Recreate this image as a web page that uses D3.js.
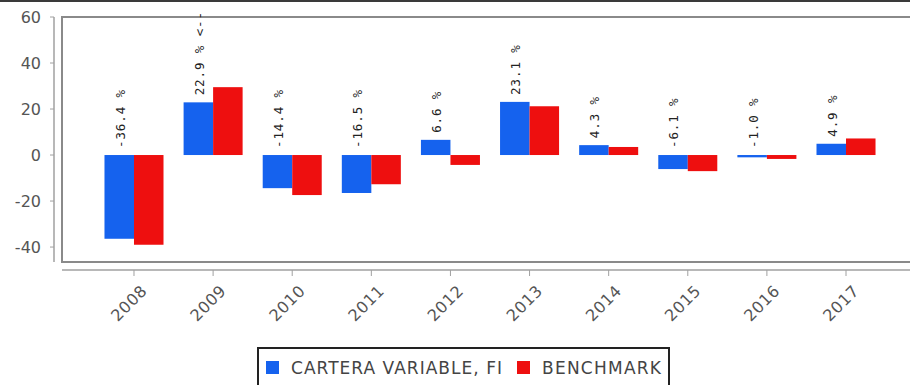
<!DOCTYPE html>
<html>
<head>
<meta charset="utf-8">
<script src="https://cdn.jsdelivr.net/npm/d3@7"></script>
<style>
  html, body { margin: 0; padding: 0; background: #fff; }
  svg { display: block; }
</style>
</head>
<body>
<svg id="chart" width="910" height="385"></svg>
<script>
// Annual returns, portfolio vs benchmark
const years = ["2008", "2009", "2010", "2011", "2012", "2013", "2014", "2015", "2016", "2017"];
const carteraValues = [-36.4, 22.9, -14.4, -16.5, 6.6, 23.1, 4.3, -6.1, -1.0, 4.9];
const benchmarkValues = [-39.0, 29.5, -17.4, -12.7, -4.3, 21.2, 3.5, -7.0, -1.7, 7.2];
const valueLabels = ["-36.4 %", "22.9 % <--", "-14.4 %", "-16.5 %", "6.6 %", "23.1 %", "4.3 %", "-6.1 %", "-1.0 %", "4.9 %"];
const seriesNames = ["CARTERA VARIABLE, FI", "BENCHMARK"];
const yTicks = [60, 40, 20, 0, -20, -40];

const colors = ["#1562ee", "#ee0f0f"];

const svg = d3.select("#chart");
const plot = { left: 62, right: 918, top: 17, bottom: 262 };

const x0 = d3.scaleBand()
  .domain(years)
  .range([plot.left, plot.right])
  .paddingInner(0.254)
  .paddingOuter(0.537);

const x1 = d3.scaleBand()
  .domain([0, 1])
  .range([0, x0.bandwidth()]);

const y = d3.scaleLinear()
  .domain([-46.5, 60])
  .range([plot.bottom, plot.top]);

// outer frame line at the top
svg.append("line")
  .attr("x1", 0).attr("x2", 910)
  .attr("y1", 1).attr("y2", 1)
  .attr("stroke", "#3a3a3a").attr("stroke-width", 2);

// plot area border
svg.append("rect")
  .attr("x", plot.left).attr("y", plot.top)
  .attr("width", plot.right - plot.left)
  .attr("height", plot.bottom - plot.top)
  .attr("fill", "#fff")
  .attr("stroke", "#8a8a8a").attr("stroke-width", 2);

// bars
const groups = svg.append("g").selectAll("g")
  .data(years)
  .join("g")
  .attr("transform", d => `translate(${x0(d)},0)`);

groups.each(function (yr, i) {
  const g = d3.select(this);
  [carteraValues[i], benchmarkValues[i]].forEach((v, s) => {
    g.append("rect")
      .attr("x", x1(s))
      .attr("width", x1.bandwidth())
      .attr("y", y(Math.max(0, v)))
      .attr("height", Math.abs(y(v) - y(0)))
      .attr("fill", colors[s]);
  });
});

// value labels for the portfolio series
svg.append("g").selectAll("text")
  .data(years)
  .join("text")
  .attr("transform", (d, i) => {
    const cx = x0(d) + x1(0) + x1.bandwidth() / 2 + 1;
    const by = Math.min(y(0), y(carteraValues[i])) - 7;
    return `translate(${cx},${by}) rotate(-90)`;
  })
  .attr("dy", "0.35em")
  .attr("text-anchor", "start")
  .attr("font-family", "DejaVu Sans Mono, monospace")
  .attr("font-size", 12.5)
  .attr("letter-spacing", 0.9)
  .attr("fill", "#222")
  .text((d, i) => valueLabels[i]);

// y axis, offset to the left of the plot
const yAxis = svg.append("g");
yAxis.append("line")
  .attr("x1", 54).attr("x2", 54)
  .attr("y1", plot.top).attr("y2", plot.bottom)
  .attr("stroke", "#a0a0a0").attr("stroke-width", 1.5);
yAxis.selectAll(".tick")
  .data(yTicks)
  .join("line")
  .attr("x1", 50).attr("x2", 54)
  .attr("y1", d => y(d)).attr("y2", d => y(d))
  .attr("stroke", "#a0a0a0");
yAxis.selectAll("text")
  .data(yTicks)
  .join("text")
  .attr("x", 41)
  .attr("y", d => y(d))
  .attr("dy", "0.35em")
  .attr("text-anchor", "end")
  .attr("font-family", "DejaVu Sans, sans-serif")
  .attr("font-size", 16)
  .attr("fill", "#555")
  .text(d => d);

// x axis, offset below the plot
const xAxis = svg.append("g");
xAxis.append("line")
  .attr("x1", plot.left).attr("x2", 910)
  .attr("y1", 270).attr("y2", 270)
  .attr("stroke", "#a0a0a0").attr("stroke-width", 1.5);
xAxis.selectAll(".tick")
  .data(years)
  .join("line")
  .attr("x1", d => x0(d) + x0.bandwidth() / 2)
  .attr("x2", d => x0(d) + x0.bandwidth() / 2)
  .attr("y1", 270).attr("y2", 276)
  .attr("stroke", "#a0a0a0");
xAxis.selectAll("text")
  .data(years)
  .join("text")
  .attr("transform", d => `translate(${x0(d) + x0.bandwidth() / 2 + 14},292) rotate(-45)`)
  .attr("text-anchor", "end")
  .attr("font-family", "DejaVu Sans, sans-serif")
  .attr("font-size", 16)
  .attr("letter-spacing", 0.5)
  .attr("fill", "#555")
  .text(d => d);

// legend
const legend = svg.append("g");
legend.append("rect")
  .attr("x", 258).attr("y", 348)
  .attr("width", 411).attr("height", 45)
  .attr("fill", "#fff")
  .attr("stroke", "#222").attr("stroke-width", 2);

const legendTextWidths = [211, 119];
let lx = 266;
seriesNames.forEach((name, s) => {
  legend.append("rect")
    .attr("x", lx).attr("y", 361)
    .attr("width", 13).attr("height", 13)
    .attr("fill", colors[s]);
  legend.append("text")
    .attr("x", lx + 25).attr("y", 374)
    .attr("font-family", "DejaVu Sans, sans-serif")
    .attr("font-size", 17)
    .attr("textLength", legendTextWidths[s])
    .attr("lengthAdjust", "spacing")
    .attr("fill", "#444")
    .text(name);
  lx = lx + 25 + legendTextWidths[s] + 15;
});
</script>
</body>
</html>
